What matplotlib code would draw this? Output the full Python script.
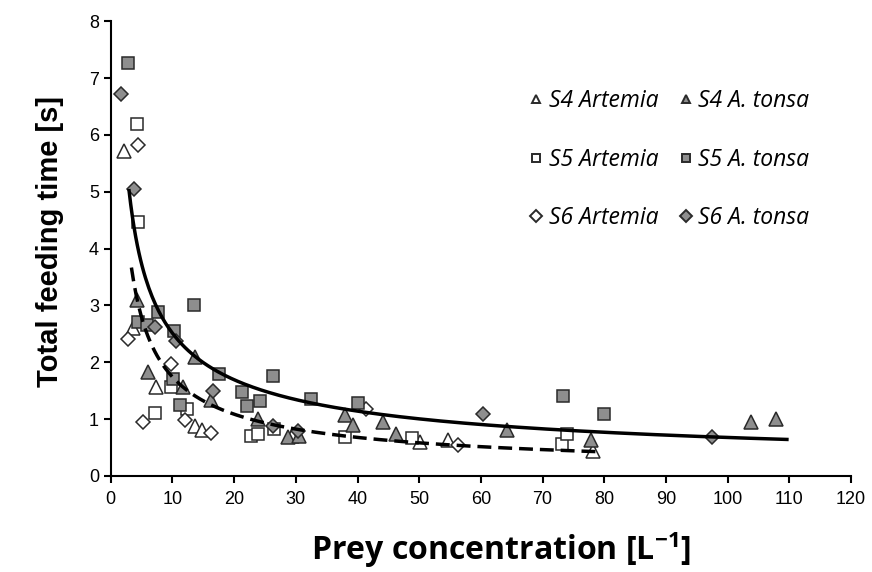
import numpy as np
import matplotlib
matplotlib.use("Agg")
import matplotlib.pyplot as plt
from matplotlib.lines import Line2D

# prey concentration (L^-1) and total feeding time (s)
s4_art_x = [2.1, 3.6, 7.4, 13.7, 14.8, 29.3, 50.1, 54.7, 78.1]
s4_art_y = [5.71, 2.60, 1.57, 0.87, 0.81, 0.70, 0.60, 0.64, 0.44]
s4_ton_x = [4.2, 6.05, 11.7, 13.6, 16.3, 23.9, 28.7, 30.5, 37.9, 39.3, 44.1, 46.3, 64.3, 77.8, 103.7, 107.9]
s4_ton_y = [3.09, 1.83, 1.56, 2.10, 1.34, 1.00, 0.68, 0.70, 1.07, 0.90, 0.95, 0.74, 0.81, 0.64, 0.95, 1.00]

s5_art_x = [4.2, 4.4, 7.1, 9.7, 12.4, 22.8, 23.9, 26.5, 37.9, 48.8, 73.1, 73.9]
s5_art_y = [6.19, 4.46, 1.11, 1.57, 1.17, 0.70, 0.74, 0.83, 0.68, 0.66, 0.57, 0.74]
s5_ton_x = [2.8, 4.4, 5.9, 7.6, 10.1, 10.3, 11.2, 13.5, 17.5, 21.2, 22.1, 24.2, 26.3, 32.4, 40.1, 73.3, 80.0]
s5_ton_y = [7.27, 2.71, 2.65, 2.89, 1.70, 2.55, 1.25, 3.00, 1.80, 1.48, 1.23, 1.32, 1.76, 1.35, 1.29, 1.41, 1.09]

s6_art_x = [2.8, 4.4, 5.2, 9.7, 12.1, 16.3, 41.3, 56.3]
s6_art_y = [2.40, 5.82, 0.95, 1.96, 0.98, 0.75, 1.17, 0.54]
s6_ton_x = [1.6, 3.8, 7.1, 10.5, 16.6, 26.3, 30.4, 60.3, 97.4]
s6_ton_y = [6.71, 5.04, 2.62, 2.38, 1.50, 0.87, 0.79, 1.09, 0.68]

# power trend lines y = a * x^b (A. tonsa solid, Artemia dashed)
ton_fit = (9.33, -0.570)
ton_range = (2.97, 109.6)
art_fit = (8.35, -0.681)
art_range = (3.35, 79.0)

x_ticks = list(range(0, 121, 10))
y_ticks = list(range(0, 9))

open_fc = "white"
grey_fc = "#8e8e8e"
edge = "#2a2a2a"

plt.rcParams["font.family"] = ["Liberation Sans", "DejaVu Sans"]

fig = plt.figure(figsize=(8.72, 5.72), dpi=100)
ax = fig.add_axes([0.127, 0.168, 0.849, 0.795])

series = [
    (s4_art_x, s4_art_y, "^", open_fc, "S4 Artemia", 9.5),
    (s5_art_x, s5_art_y, "s", open_fc, "S5 Artemia", 9),
    (s6_art_x, s6_art_y, "D", open_fc, "S6 Artemia", 7),
    (s4_ton_x, s4_ton_y, "^", grey_fc, "S4 A. tonsa", 9.5),
    (s5_ton_x, s5_ton_y, "s", grey_fc, "S5 A. tonsa", 9),
    (s6_ton_x, s6_ton_y, "D", grey_fc, "S6 A. tonsa", 7),
]

handles = []
for xs, ys, mk, fc, lab, ms in series:
    ax.plot(xs, ys, ls="none", marker=mk, ms=ms, mfc=fc, mec=edge, mew=1.1, zorder=3)
    handles.append(Line2D([], [], ls="none", marker=mk, ms=6, mfc=fc, mec=edge, mew=1.4, label=lab))

# trend lines
xs = np.linspace(ton_range[0], ton_range[1], 400)
ax.plot(xs, ton_fit[0] * xs ** ton_fit[1], color="black", lw=2.5, zorder=4)
xs = np.linspace(art_range[0], art_range[1], 400)
ax.plot(xs, art_fit[0] * xs ** art_fit[1], color="black", lw=2.5, ls=(0, (4.0, 2.0)), zorder=4)

ax.set_xlim(0, 120)
ax.set_ylim(0, 8)
ax.set_xticks(x_ticks)
ax.set_yticks(y_ticks)
ax.spines["top"].set_visible(False)
ax.spines["right"].set_visible(False)
for s in ("left", "bottom"):
    ax.spines[s].set_linewidth(1.5)
ax.tick_params(direction="out", length=5, width=1.5, labelsize=13, colors="black")
ax.tick_params(axis="x", pad=6)

ax.set_ylabel("Total feeding time [s]", fontsize=21, fontweight="bold", labelpad=18)
ax.set_xlabel("Prey concentration [L$^{\\mathregular{-1}}$]", fontsize=23, fontweight="bold",
              family="Open Sans", labelpad=15)
ax.xaxis.label.set_x(0.527)
ax.yaxis.label.set_y(0.515)

leg = ax.legend(handles=handles, ncol=2, loc="upper left", bbox_to_anchor=(0.553, 0.87),
                frameon=False, handlelength=0.6, handletextpad=0.25, columnspacing=0.9,
                labelspacing=1.5, borderaxespad=0,
                prop={"family": "Open Sans", "style": "italic", "size": 16.5})

fig.savefig("out.png", dpi=100)
